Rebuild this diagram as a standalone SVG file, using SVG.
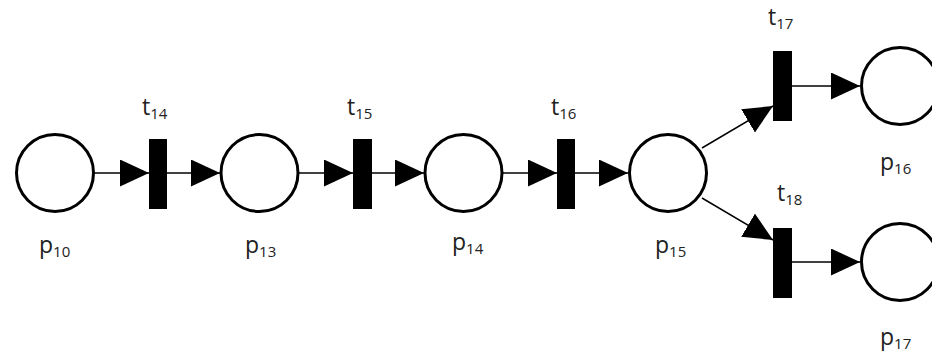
<svg xmlns="http://www.w3.org/2000/svg" width="932" height="356" viewBox="0 0 932 356">
<style>
.place{fill:#fff;stroke:#000;stroke-width:3}
.trans{fill:#000}
.arc{stroke:#000;stroke-width:1.5;fill:none;marker-end:url(#ah)}
.lbl{font-family:"Open Sans",sans-serif;font-size:23px;fill:#222}
.sub{font-size:15px}
</style>
<defs>
<marker id="ah" markerUnits="userSpaceOnUse" markerWidth="30" markerHeight="28" refX="29" refY="13.5" orient="auto" viewBox="0 0 30 28">
<path d="M0,0 L29,13.5 L0,27 z" fill="#000"/>
</marker>
</defs>
<rect width="932" height="356" fill="#fff"/>
<g id="connectors">
<path class="arc" d="M94,173 H149"/>
<path class="arc" d="M167,173 H220"/>
<path class="arc" d="M298,173 H353"/>
<path class="arc" d="M372,173 H424"/>
<path class="arc" d="M502,173 H557"/>
<path class="arc" d="M575,173 H628"/>
<path class="arc" d="M702,148 L773,106"/>
<path class="arc" d="M702,198 L773,240"/>
<path class="arc" d="M792,86 H860"/>
<path class="arc" d="M792,262 H860"/>
</g>
<g id="p10"><circle class="place" cx="55" cy="173" r="38.5"/><text class="lbl" x="39" y="253">p<tspan class="sub" dy="4">10</tspan></text></g>
<g id="t14"><rect class="trans" x="149" y="139" width="18" height="70"/><text class="lbl" x="142" y="115">t<tspan class="sub" dy="4">14</tspan></text></g>
<g id="p13"><circle class="place" cx="259.5" cy="173" r="38.5"/><text class="lbl" x="245" y="253">p<tspan class="sub" dy="4">13</tspan></text></g>
<g id="t15"><rect class="trans" x="353" y="139" width="19" height="70"/><text class="lbl" x="347" y="115">t<tspan class="sub" dy="4">15</tspan></text></g>
<g id="p14"><circle class="place" cx="463.5" cy="173" r="38.5"/><text class="lbl" x="452" y="250">p<tspan class="sub" dy="4">14</tspan></text></g>
<g id="t16"><rect class="trans" x="557" y="139" width="18" height="70"/><text class="lbl" x="551" y="115">t<tspan class="sub" dy="4">16</tspan></text></g>
<g id="p15"><circle class="place" cx="668" cy="173" r="38.5"/><text class="lbl" x="655" y="253">p<tspan class="sub" dy="4">15</tspan></text></g>
<g id="t17"><rect class="trans" x="773" y="51" width="19" height="70"/><text class="lbl" x="768" y="25">t<tspan class="sub" dy="4">17</tspan></text></g>
<g id="p16"><circle class="place" cx="900" cy="86" r="38.5"/><text class="lbl" x="880" y="170">p<tspan class="sub" dy="4">16</tspan></text></g>
<g id="t18"><rect class="trans" x="773" y="228" width="19" height="70"/><text class="lbl" x="777" y="201">t<tspan class="sub" dy="4">18</tspan></text></g>
<g id="p17"><circle class="place" cx="900" cy="262" r="38.5"/><text class="lbl" x="880" y="345">p<tspan class="sub" dy="4">17</tspan></text></g>
</svg>
